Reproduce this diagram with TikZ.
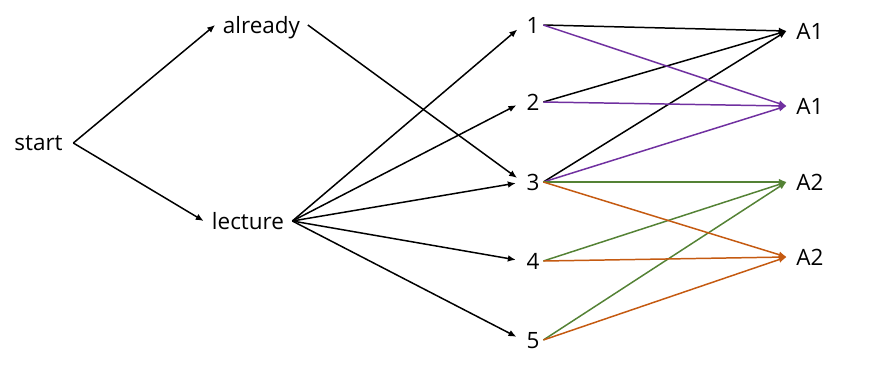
\documentclass[tikz,border=0pt]{standalone}
\usepackage{fontspec}
\setmainfont{Open Sans}
\usetikzlibrary{arrows.meta}
\definecolor{cpurple}{HTML}{7030A0}
\definecolor{cgreen}{HTML}{548235}
\definecolor{corange}{HTML}{C55A11}
\begin{document}
\begin{tikzpicture}[x=0.02cm,y=-0.02cm,
  lbl/.style={inner sep=0pt,font=\fontsize{12.8}{15}\selectfont,text depth=0pt},
  arr/.style={line width=0.85pt,-{Latex[length=4.5pt,width=3.8pt]}},
  into/.style={shorten >=0.14cm}]
\useasboundingbox (0,0) rectangle (875,369);
\node[lbl,minimum width=1.38cm] (start) at (38.5,143) {start};
\node[lbl,minimum width=1.84cm] (already) at (261.5,25) {already};
\node[lbl,minimum width=1.76cm] (lecture) at (248,221) {lecture};
\node[lbl,minimum width=0.4cm] (n1) at (533,25) {1};
\node[lbl,minimum width=0.4cm] (n2) at (533,102) {2};
\node[lbl,minimum width=0.4cm] (n3) at (533,182) {3};
\node[lbl,minimum width=0.4cm] (n4) at (533,261) {4};
\node[lbl,minimum width=0.4cm] (n5) at (533,340) {5};
\node[lbl,minimum width=0.92cm] (a1) at (810,31) {A1};
\node[lbl,minimum width=0.92cm] (a2) at (810,106) {A1};
\node[lbl,minimum width=0.92cm] (a3) at (810,182) {A2};
\node[lbl,minimum width=0.92cm] (a4) at (810,257) {A2};
% left part
\draw[arr] (start.east) -- (already.west);
\draw[arr] (start.east) -- (lecture.west);
\draw[arr,into] (already.east) -- (n3.west);
\foreach \n in {n1,n2,n3,n4,n5}{\draw[arr,into] (lecture.east) -- (\n.west);}
% right part
\draw[arr] (n1.east) -- (a1.west);
\draw[arr] (n2.east) -- (a1.west);
\draw[arr] (n3.east) -- (a1.west);
\draw[arr,cpurple] (n1.east) -- (a2.west);
\draw[arr,cpurple] (n2.east) -- (a2.west);
\draw[arr,cpurple] (n3.east) -- (a2.west);
\draw[arr,cgreen] (n3.east) -- (a3.west);
\draw[arr,cgreen] (n4.east) -- (a3.west);
\draw[arr,cgreen] (n5.east) -- (a3.west);
\draw[arr,corange] (n3.east) -- (a4.west);
\draw[arr,corange] (n4.east) -- (a4.west);
\draw[arr,corange] (n5.east) -- (a4.west);
\end{tikzpicture}
\end{document}
